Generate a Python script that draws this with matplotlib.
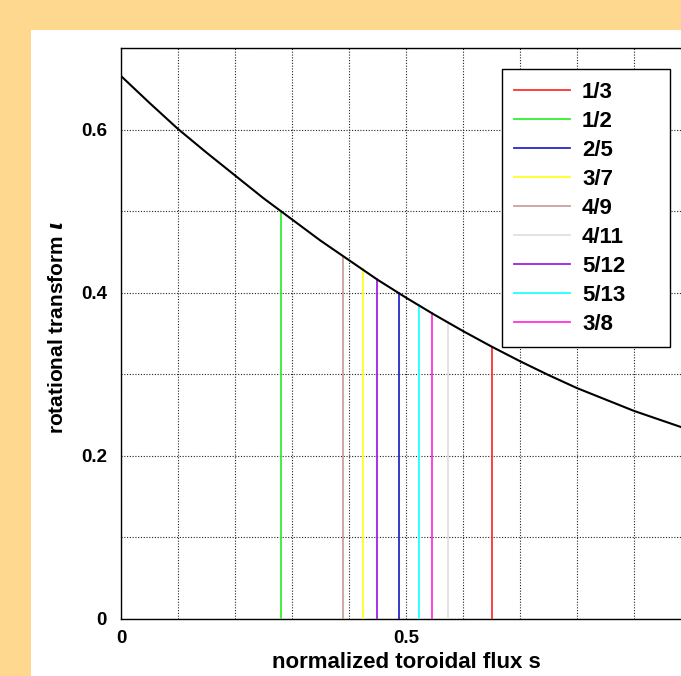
import numpy as np
import matplotlib
matplotlib.use('Agg')
import matplotlib.pyplot as plt
from matplotlib.patches import Rectangle

plt.rcParams['font.family'] = ['Liberation Sans', 'DejaVu Sans']
plt.rcParams['font.weight'] = 'bold'

# iota profile
s_curve = [0.00, 0.05, 0.10, 0.15, 0.20, 0.25, 0.30, 0.35, 0.40, 0.45, 0.50,
           0.55, 0.60, 0.65, 0.70, 0.75, 0.80, 0.85, 0.90, 0.95, 1.00]
iota_curve = [0.666, 0.633, 0.601, 0.572, 0.544, 0.516, 0.490, 0.464, 0.440, 0.416, 0.394,
              0.373, 0.353, 0.334, 0.316, 0.299, 0.283, 0.269, 0.255, 0.243, 0.231]

# rational surfaces
res_labels = ['1/3', '1/2', '2/5', '3/7', '4/9', '4/11', '5/12', '5/13', '3/8']
res_s = [0.651, 0.280, 0.488, 0.425, 0.390, 0.574, 0.450, 0.523, 0.546]
res_iota = [1/3, 1/2, 2/5, 3/7, 4/9, 4/11, 5/12, 5/13, 3/8]
res_colors = ['#ff3030', '#30f030', '#2828c8', '#ffff20', '#c8a0a0',
              '#e0e0e0', '#a020e0', '#20ffff', '#ff30e0']

fig = plt.figure(figsize=(6.81, 6.76), dpi=100)
fig.patch.set_facecolor('#fed88f')
fig.patches.append(Rectangle((30.5/681, 0), 1, 1 - 30/676, transform=fig.transFigure,
                             facecolor='white', edgecolor='none', zorder=-10))

ax = fig.add_axes([121/681, (676-618.7)/676, 570/681, 570.4/676])
ax.set_facecolor('white')

for lab, s, io, c in zip(res_labels, res_s, res_iota, res_colors):
    ax.plot([s, s], [0, io], color=c, lw=1.3, label=lab, zorder=3)

ax.plot(s_curve, iota_curve, color='black', lw=1.5, zorder=4)

ax.set_xlim(0, 1)
ax.set_ylim(0, 0.7)
ax.set_xticks(np.arange(0, 1.01, 0.1))
ax.set_xticklabels(['0', '', '', '', '', '0.5', '', '', '', '', ''])
ax.set_yticks(np.arange(0, 0.71, 0.1))
ax.set_yticklabels(['0', '', '0.2', '', '0.4', '', '0.6', ''])
ax.tick_params(axis='x', length=0, labelsize=13.5, pad=8)
ax.tick_params(axis='y', length=0, labelsize=13.5, pad=10)
ax.grid(True, color='#222222', ls=(0, (1, 1.5)), lw=0.8)
for sp in ax.spines.values():
    sp.set_linewidth(1.0)

ax.set_xlabel('normalized toroidal flux s', fontsize=16, fontweight='bold', labelpad=4)
ax.set_ylabel(r'rotational transform $\iota$', fontsize=15, fontweight='bold')
ax.yaxis.set_label_coords(-0.095, 0.51)

leg = ax.legend(loc='upper left', bbox_to_anchor=(502/681, 1 - 69.3/676, 168/681, 0),
                bbox_transform=fig.transFigure, mode='expand', borderaxespad=0,
                prop={'size': 16, 'weight': 'bold'}, handlelength=2.5, handletextpad=0.55,
                labelspacing=0.36, borderpad=0.55, fancybox=False, framealpha=1)
leg.get_frame().set_edgecolor('black')
leg.get_frame().set_linewidth(1.0)

fig.savefig('out.png', dpi=100, facecolor=fig.get_facecolor())
